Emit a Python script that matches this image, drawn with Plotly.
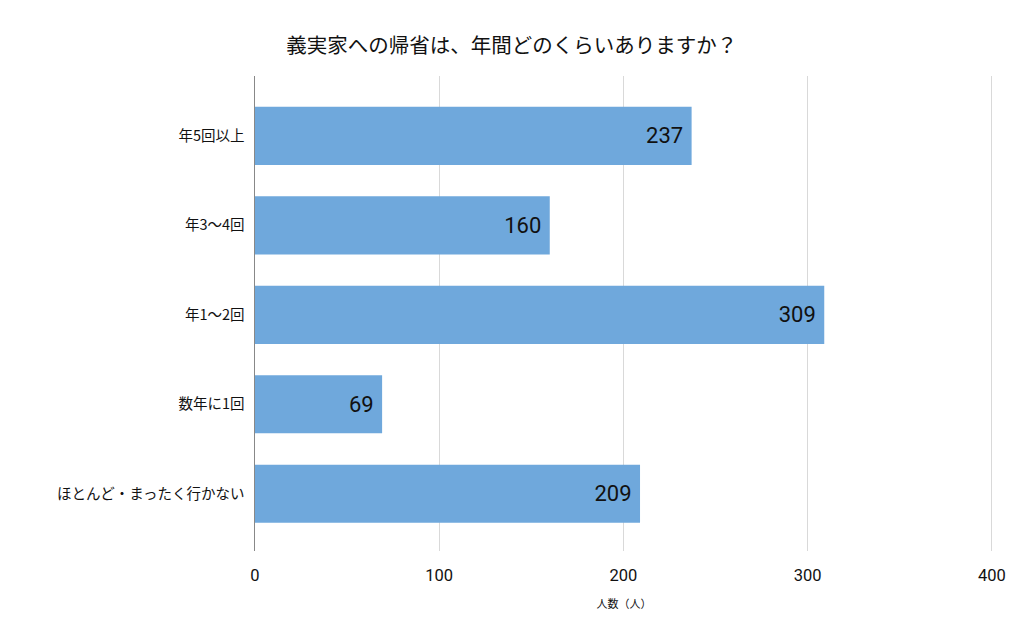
import plotly.graph_objects as go

categories = ["年5回以上", "年3～4回", "年1～2回", "数年に1回", "ほとんど・まったく行かない"]
values = [237, 160, 309, 69, 209]
x_ticks = [0, 100, 200, 300, 400]

FONT = "Noto Sans CJK JP"

fig = go.Figure(go.Bar(
    x=values, y=categories, orientation="h",
    marker=dict(color="#6fa8dc", line=dict(width=0)),
    text=[str(v) + "\u00a0" for v in values], textposition="inside", insidetextanchor="end",
    textfont=dict(family="Roboto", size=22, color="#111111"),
    width=0.65,
))

fig.update_layout(
    width=1024, height=633,
    paper_bgcolor="white", plot_bgcolor="white",
    margin=dict(l=247, r=39, t=68, b=90, autoexpand=False),
    title=dict(text="義実家への帰省は、年間どのくらいありますか？", x=0.492, xanchor="center",
               y=1 - 38 / 633, yanchor="middle",
               font=dict(family=FONT, size=20.5, color="#111111")),
    font=dict(family=FONT, color="#111111"),
    showlegend=False,
    bargap=0.35,
)
fig.update_xaxes(range=[0, 400.6], tickvals=x_ticks, showgrid=True, gridcolor="#d9d9d9",
                 gridwidth=1, zeroline=False, showline=False,
                 tickfont=dict(family="Roboto", size=16.5, color="#111111"),
                 ticks="outside", ticklen=9, tickcolor="rgba(0,0,0,0)",
                 title=dict(text="人数（人）", font=dict(family=FONT, size=11, color="#111111"), standoff=16))
fig.update_yaxes(categoryorder="array", categoryarray=categories, range=[4.64, -0.67],
                 showline=True, linecolor="#888888", linewidth=1, ticks="",
                 tickfont=dict(family=FONT, size=14.5, color="#111111"), ticksuffix="  ")

fig.write_html("out.html")
